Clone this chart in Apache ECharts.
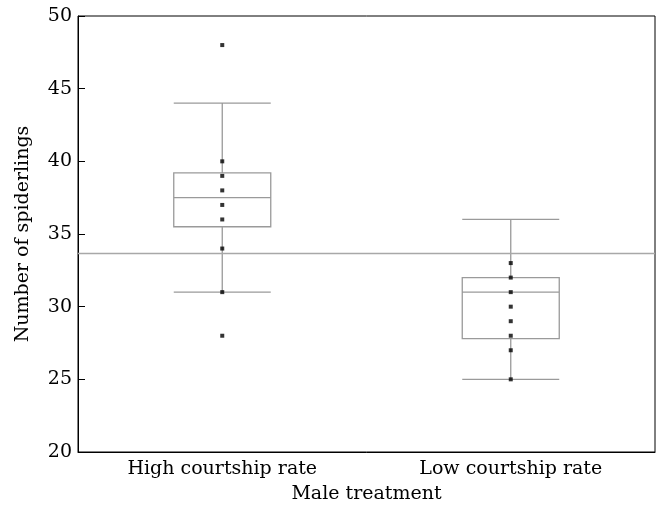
<!DOCTYPE html>
<html><head><meta charset="utf-8">
<script src="https://cdn.jsdelivr.net/npm/echarts@6/dist/echarts.min.js"></script>
<style>html,body{margin:0;padding:0;background:#fff}#c{width:659px;height:511px}</style>
</head><body><div id="c"></div>
<script>
const categories = ['High courtship rate', 'Low courtship rate'];
// [min, Q1, median, Q3, max]
const boxHigh = [31, 35.5, 37.5, 39.2, 44];
const boxLow = [25, 27.8, 31, 32, 36];
const pointsHigh = [48, 40, 39, 38, 37, 36, 34, 31, 28];
const pointsLow = [33, 32, 31, 30, 29, 28, 27, 25];
const meanValue = 33.7;
const yTicks = [20, 25, 30, 35, 40, 45, 50];

const font = 'DejaVu Serif';
const chart = echarts.init(document.getElementById('c'), null, {renderer: 'canvas'});
const scatterData = pointsHigh.map(v => [0, v]).concat(pointsLow.map(v => [1, v]));
chart.setOption({
  animation: false,
  grid: {left: 78, right: 4, top: 16, bottom: 59, show: true, borderColor: '#000', borderWidth: 1, backgroundColor: 'transparent'},
  xAxis: {
    type: 'category', data: categories, boundaryGap: true,
    name: 'Male treatment', nameLocation: 'middle', nameGap: 33,
    nameTextStyle: {fontFamily: font, fontSize: 19, color: '#000'},
    axisLine: {lineStyle: {color: '#000', width: 1}},
    axisTick: {inside: true, length: 8, lineStyle: {color: '#000'}},
    axisLabel: {fontFamily: font, fontSize: 19, color: '#000', margin: 8},
    splitLine: {show: false}
  },
  yAxis: {
    type: 'value', min: yTicks[0], max: yTicks[yTicks.length - 1], interval: 5,
    name: 'Number of spiderlings', nameLocation: 'middle', nameGap: 45,
    nameTextStyle: {fontFamily: font, fontSize: 19, color: '#000'},
    axisLine: {show: true, lineStyle: {color: '#000', width: 1}},
    axisTick: {show: true, inside: true, length: 7, lineStyle: {color: '#000'}},
    axisLabel: {fontFamily: font, fontSize: 19, color: '#000', margin: 6},
    splitLine: {show: false}
  },
  series: [
    {
      type: 'boxplot',
      data: [boxHigh, boxLow],
      boxWidth: [97, 97],
      itemStyle: {color: 'rgba(255,255,255,0)', borderColor: '#9a9a9a', borderWidth: 1.3},
      emphasis: {disabled: true},
      markLine: {
        silent: true, symbol: ['none', 'none'], label: {show: false},
        lineStyle: {color: '#a8a8a8', width: 1.3, type: 'solid'},
        data: [{yAxis: meanValue}]
      },
      z: 2
    },
    {
      type: 'scatter',
      data: scatterData,
      symbol: 'rect', symbolSize: 4,
      itemStyle: {color: '#000'},
      z: 5
    }
  ]
});
</script></body></html>
